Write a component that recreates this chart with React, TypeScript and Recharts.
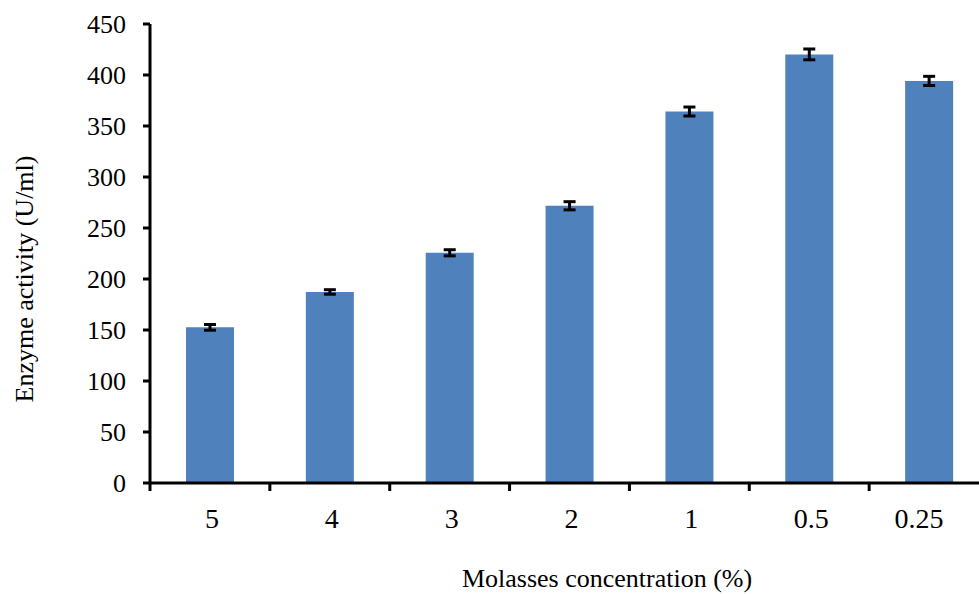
import { BarChart, Bar, XAxis, YAxis, ErrorBar } from 'recharts';

// molasses concentration (%) vs enzyme activity
const concentrations = ['5', '4', '3', '2', '1', '0.5', '0.25'];
const activity = [152.6, 187.3, 225.7, 271.8, 364.2, 420.2, 394.2];
const activityErr = [2.8, 2.2, 3.0, 4.0, 4.4, 5.3, 4.5];
const yTicks = [0, 50, 100, 150, 200, 250, 300, 350, 400, 450];

const chartData = concentrations.map((c, i) => ({
  name: c,
  value: activity[i],
  err: activityErr[i],
}));

const FONT = '"Liberation Serif", "Times New Roman", serif';
const CHART_W = 1000;
const CHART_H = 594;
const LEFT = 150;
const RIGHT_MARGIN = 11;
const AXIS_Y = 483;
const BAND = (CHART_W - LEFT - RIGHT_MARGIN) / concentrations.length;

// category label under the center, tick mark on the band boundary (Excel style)
function CategoryTick(props: any) {
  const { x, index } = props;
  const left = x - BAND / 2;
  const last = index === concentrations.length - 1;
  return (
    <g>
      <line x1={left} x2={left} y1={AXIS_Y} y2={AXIS_Y + 8} stroke="#000" strokeWidth={3} />
      {last && (
        <line x1={x + BAND / 2} x2={x + BAND / 2} y1={AXIS_Y} y2={AXIS_Y + 8} stroke="#000" strokeWidth={3} />
      )}
      <text x={last ? x - 10 : x + 2} y={528} textAnchor="middle" fontFamily={FONT} fontSize={28} fill="#000">
        {props.payload.value}
      </text>
    </g>
  );
}

export default function App() {
  return (
    <div
      style={{
        position: 'absolute',
        left: 0,
        top: 0,
        width: 979,
        height: 594,
        overflow: 'hidden',
        background: '#fff',
      }}
    >
      <BarChart
        width={CHART_W}
        height={CHART_H}
        data={chartData}
        margin={{ top: 24, right: RIGHT_MARGIN, left: 0, bottom: 0 }}
        barSize={48}
      >
        <XAxis
          dataKey="name"
          height={CHART_H - AXIS_Y - 0}
          axisLine={{ stroke: '#000', strokeWidth: 3 }}
          tickLine={false}
          tick={<CategoryTick />}
          interval={0}
          label={{
            content: () => (
              <text x={607} y={587} textAnchor="middle" fontFamily={FONT} fontSize={26} fill="#000">
                Molasses concentration (%)
              </text>
            ),
          }}
        />
        <YAxis
          width={LEFT}
          domain={[0, 450]}
          ticks={yTicks}
          interval={0}
          axisLine={{ stroke: '#000', strokeWidth: 3 }}
          tickLine={{ stroke: '#000', strokeWidth: 3 }}
          tickSize={7}
          tickMargin={17}
          tick={{ fill: '#000', fontSize: 26, fontFamily: FONT }}
          label={{
            content: () => (
              <text
                x={24}
                y={279}
                transform="rotate(-90, 24, 279)"
                textAnchor="middle"
                dominantBaseline="central"
                fontFamily={FONT}
                fontSize={26}
                fill="#000"
              >
                Enzyme activity (U/ml)
              </text>
            ),
          }}
        />
        <Bar dataKey="value" fill="#4f81bd" isAnimationActive={false}>
          <ErrorBar dataKey="err" direction="y" width={6} stroke="#000" strokeWidth={3} />
        </Bar>
      </BarChart>
    </div>
  );
}
